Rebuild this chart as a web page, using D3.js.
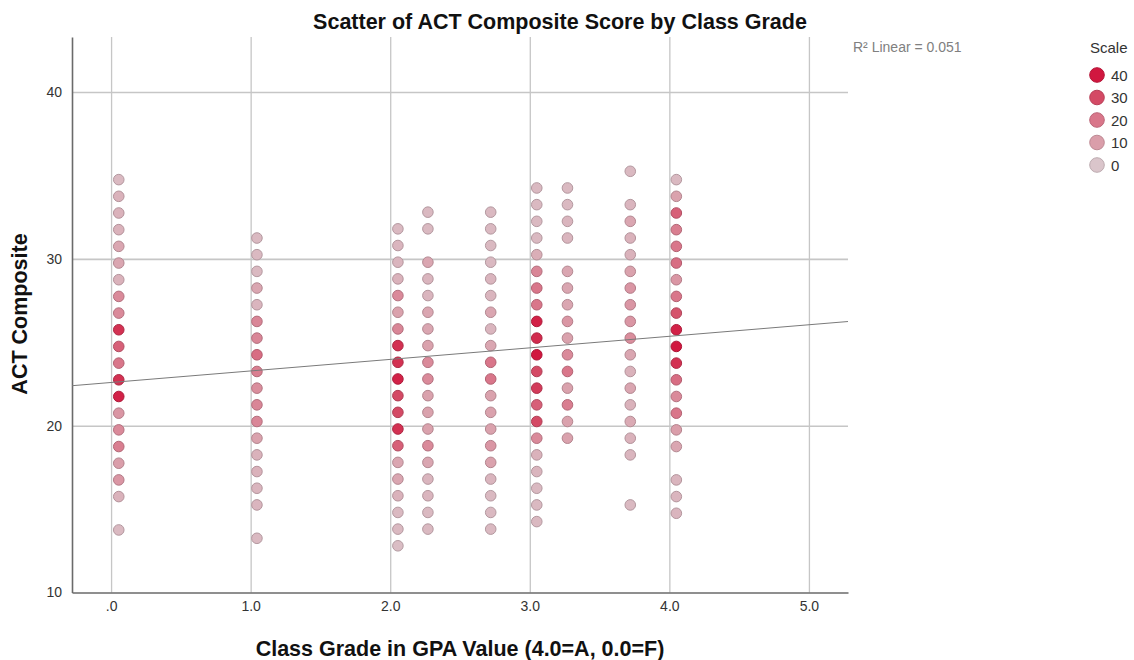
<!DOCTYPE html>
<html>
<head>
<meta charset="utf-8">
<script src="https://cdn.jsdelivr.net/npm/d3@7"></script>
<style>
  body { margin: 0; background: #fff; }
  svg { display: block; font-family: "Liberation Sans", Arial, sans-serif; }
</style>
</head>
<body>
<svg id="chart" width="1134" height="660"></svg>
<script>
// ---------- DATA ----------
const chartTitle = "Scatter of ACT Composite Score by Class Grade";
const xAxisTitle = "Class Grade in GPA Value (4.0=A, 0.0=F)";
const yAxisTitle = "ACT Composite";
const r2Label = "R\u00B2 Linear = 0.051";

const xTickValues = [0, 1, 2, 3, 4, 5];
const xTickLabels = [".0", "1.0", "2.0", "3.0", "4.0", "5.0"];
const yTickValues = [10, 20, 30, 40];
const yTickLabels = ["10", "20", "30", "40"];

// GPA value of each column of points
const gradeValues = [0.055, 1.045, 2.055, 2.27, 2.72, 3.05, 3.27, 3.72, 4.05];

// ACT composite values in each column (top to bottom)
const actByGrade = [
  [34.75, 33.75, 32.75, 31.75, 30.75, 29.75, 28.75, 27.75, 26.75, 25.75, 24.75, 23.75, 22.75, 21.75, 20.75, 19.75, 18.75, 17.75, 16.75, 15.75, 13.75],
  [31.25, 30.25, 29.25, 28.25, 27.25, 26.25, 25.25, 24.25, 23.25, 22.25, 21.25, 20.25, 19.25, 18.25, 17.25, 16.25, 15.25, 13.25],
  [31.8, 30.8, 29.8, 28.8, 27.8, 26.8, 25.8, 24.8, 23.8, 22.8, 21.8, 20.8, 19.8, 18.8, 17.8, 16.8, 15.8, 14.8, 13.8, 12.8],
  [32.8, 31.8, 29.8, 28.8, 27.8, 26.8, 25.8, 24.8, 23.8, 22.8, 21.8, 20.8, 19.8, 18.8, 17.8, 16.8, 15.8, 14.8, 13.8],
  [32.8, 31.8, 30.8, 29.8, 28.8, 27.8, 26.8, 25.8, 24.8, 23.8, 22.8, 21.8, 20.8, 19.8, 18.8, 17.8, 16.8, 15.8, 14.8, 13.8],
  [34.25, 33.25, 32.25, 31.25, 30.25, 29.25, 28.25, 27.25, 26.25, 25.25, 24.25, 23.25, 22.25, 21.25, 20.25, 19.25, 18.25, 17.25, 16.25, 15.25, 14.25],
  [34.25, 33.25, 32.25, 31.25, 29.25, 28.25, 27.25, 26.25, 25.25, 24.25, 23.25, 22.25, 21.25, 20.25, 19.25],
  [35.25, 33.25, 32.25, 31.25, 30.25, 29.25, 28.25, 27.25, 26.25, 25.25, 24.25, 23.25, 22.25, 21.25, 20.25, 19.25, 18.25, 15.25],
  [34.75, 33.75, 32.75, 31.75, 30.75, 29.75, 28.75, 27.75, 26.75, 25.75, 24.75, 23.75, 22.75, 21.75, 20.75, 19.75, 18.75, 16.75, 15.75, 14.75]
];

// number of cases at each point (drives marker colour)
const countByGrade = [
  [3, 5, 5, 5, 8, 8, 5, 15, 15, 35, 25, 20, 35, 38, 12, 15, 18, 10, 12, 5, 3],
  [3, 3, 3, 8, 4, 16, 16, 22, 18, 14, 16, 16, 9, 5, 5, 4, 4, 3],
  [3, 4, 4, 5, 15, 9, 16, 35, 35, 38, 30, 30, 35, 25, 8, 8, 5, 3, 3, 2],
  [3, 3, 8, 4, 4, 8, 8, 9, 15, 15, 9, 9, 9, 15, 8, 4, 4, 3, 3],
  [3, 3, 3, 3, 4, 4, 8, 4, 8, 20, 20, 9, 9, 9, 12, 9, 4, 3, 3, 3],
  [3, 3, 3, 3, 6, 16, 20, 20, 38, 36, 40, 30, 33, 25, 30, 15, 5, 4, 3, 3, 3],
  [3, 3, 4, 4, 8, 8, 8, 12, 9, 15, 20, 9, 18, 9, 9],
  [3, 4, 8, 5, 5, 9, 12, 12, 12, 14, 8, 5, 8, 5, 7, 5, 4, 3],
  [3, 9, 25, 18, 20, 22, 12, 20, 28, 38, 40, 35, 22, 15, 20, 10, 8, 4, 4, 4]
];

// fit line: ACT = intercept + slope * grade
const fitIntercept = 22.59;
const fitSlope = 0.692;

const legendTitle = "Scale";
const legendValues = [40, 30, 20, 10, 0];

// ---------- CHART ----------
const svg = d3.select("#chart");
const plot = { left: 72, right: 848, top: 37, bottom: 592.5 };

const x = d3.scaleLinear().domain([-0.28, 5.28]).range([plot.left, plot.right]);
const y = d3.scaleLinear().domain([10, 43.3]).range([plot.bottom, plot.top]);

const color = d3.scaleLinear()
  .domain([0, 10, 20, 30, 40])
  .range(["#dac5cb", "#da9eaa", "#d9768a", "#d44a65", "#d1173f"])
  .clamp(true);

// title
svg.append("text")
  .attr("x", 560).attr("y", 29)
  .attr("text-anchor", "middle")
  .attr("font-size", 21.5).attr("font-weight", "bold")
  .attr("fill", "#111")
  .text(chartTitle);

// gridlines
const gridColor = "#c6c6c6";
svg.append("g")
  .attr("transform", `translate(0,${plot.bottom})`)
  .call(d3.axisBottom(x).tickValues(xTickValues).tickSize(-(plot.bottom - plot.top)).tickFormat(""))
  .call(g => g.select(".domain").remove())
  .call(g => g.selectAll("line").attr("stroke", gridColor).attr("stroke-width", 1.3));

svg.append("g")
  .attr("transform", `translate(${plot.left},0)`)
  .call(d3.axisLeft(y).tickValues(yTickValues.filter(v => v !== 10)).tickSize(-(plot.right - plot.left)).tickFormat(""))
  .call(g => g.select(".domain").remove())
  .call(g => g.selectAll("line").attr("stroke", gridColor).attr("stroke-width", 1.6));

// axes
const axisColor = "#6a6a6a";
const xAxis = svg.append("g")
  .attr("transform", `translate(0,${plot.bottom})`)
  .call(d3.axisBottom(x).tickValues(xTickValues).tickSize(0).tickPadding(9)
    .tickFormat((d, i) => xTickLabels[i]));
xAxis.select(".domain").attr("stroke", axisColor).attr("stroke-width", 1.6);
xAxis.selectAll("text").attr("font-size", 14).attr("fill", "#333")
  .attr("font-family", '"Liberation Sans", Arial, sans-serif');

const yAxis = svg.append("g")
  .attr("transform", `translate(${plot.left},0)`)
  .call(d3.axisLeft(y).tickValues(yTickValues).tickSize(0).tickPadding(10)
    .tickFormat((d, i) => yTickLabels[i]));
yAxis.select(".domain").attr("stroke", axisColor).attr("stroke-width", 1.6);
yAxis.selectAll("text").attr("font-size", 14).attr("fill", "#333")
  .attr("font-family", '"Liberation Sans", Arial, sans-serif');

// axis titles
svg.append("text")
  .attr("x", 460).attr("y", 656)
  .attr("text-anchor", "middle")
  .attr("font-size", 21.5).attr("font-weight", "bold").attr("fill", "#111")
  .text(xAxisTitle);

svg.append("text")
  .attr("transform", `translate(27,314) rotate(-90)`)
  .attr("text-anchor", "middle")
  .attr("font-size", 21.5).attr("font-weight", "bold").attr("fill", "#111")
  .text(yAxisTitle);

// points
const points = [];
gradeValues.forEach((g, i) => {
  actByGrade[i].forEach((a, j) => points.push({ grade: g, act: a, count: countByGrade[i][j] }));
});
svg.append("g")
  .selectAll("circle")
  .data(points)
  .join("circle")
  .attr("cx", d => x(d.grade))
  .attr("cy", d => y(d.act))
  .attr("r", 5.3)
  .attr("fill", d => color(d.count))
  .attr("stroke", d => d3.color(color(d.count)).darker(0.55))
  .attr("stroke-width", 1);

// fit line
svg.append("line")
  .attr("x1", x(-0.28)).attr("y1", y(fitIntercept + fitSlope * -0.28))
  .attr("x2", x(5.28)).attr("y2", y(fitIntercept + fitSlope * 5.28))
  .attr("stroke", "#7a7a7a").attr("stroke-width", 1);

// R2 label
svg.append("text")
  .attr("x", 853).attr("y", 52)
  .attr("font-size", 14).attr("fill", "#808080")
  .text(r2Label);

// legend
svg.append("text")
  .attr("x", 1090).attr("y", 53)
  .attr("font-size", 15).attr("fill", "#333")
  .text(legendTitle);
const legendY = d3.scalePoint().domain(legendValues).range([75, 165]);
const lg = svg.append("g").selectAll("g").data(legendValues).join("g")
  .attr("transform", d => `translate(1097,${legendY(d)})`);
lg.append("circle").attr("r", 7.3)
  .attr("fill", d => color(d))
  .attr("stroke", d => d3.color(color(d)).darker(0.4))
  .attr("stroke-width", 1);
lg.append("text").attr("x", 14).attr("y", 5.5)
  .attr("font-size", 15).attr("fill", "#333")
  .text(d => d);
</script>
</body>
</html>
